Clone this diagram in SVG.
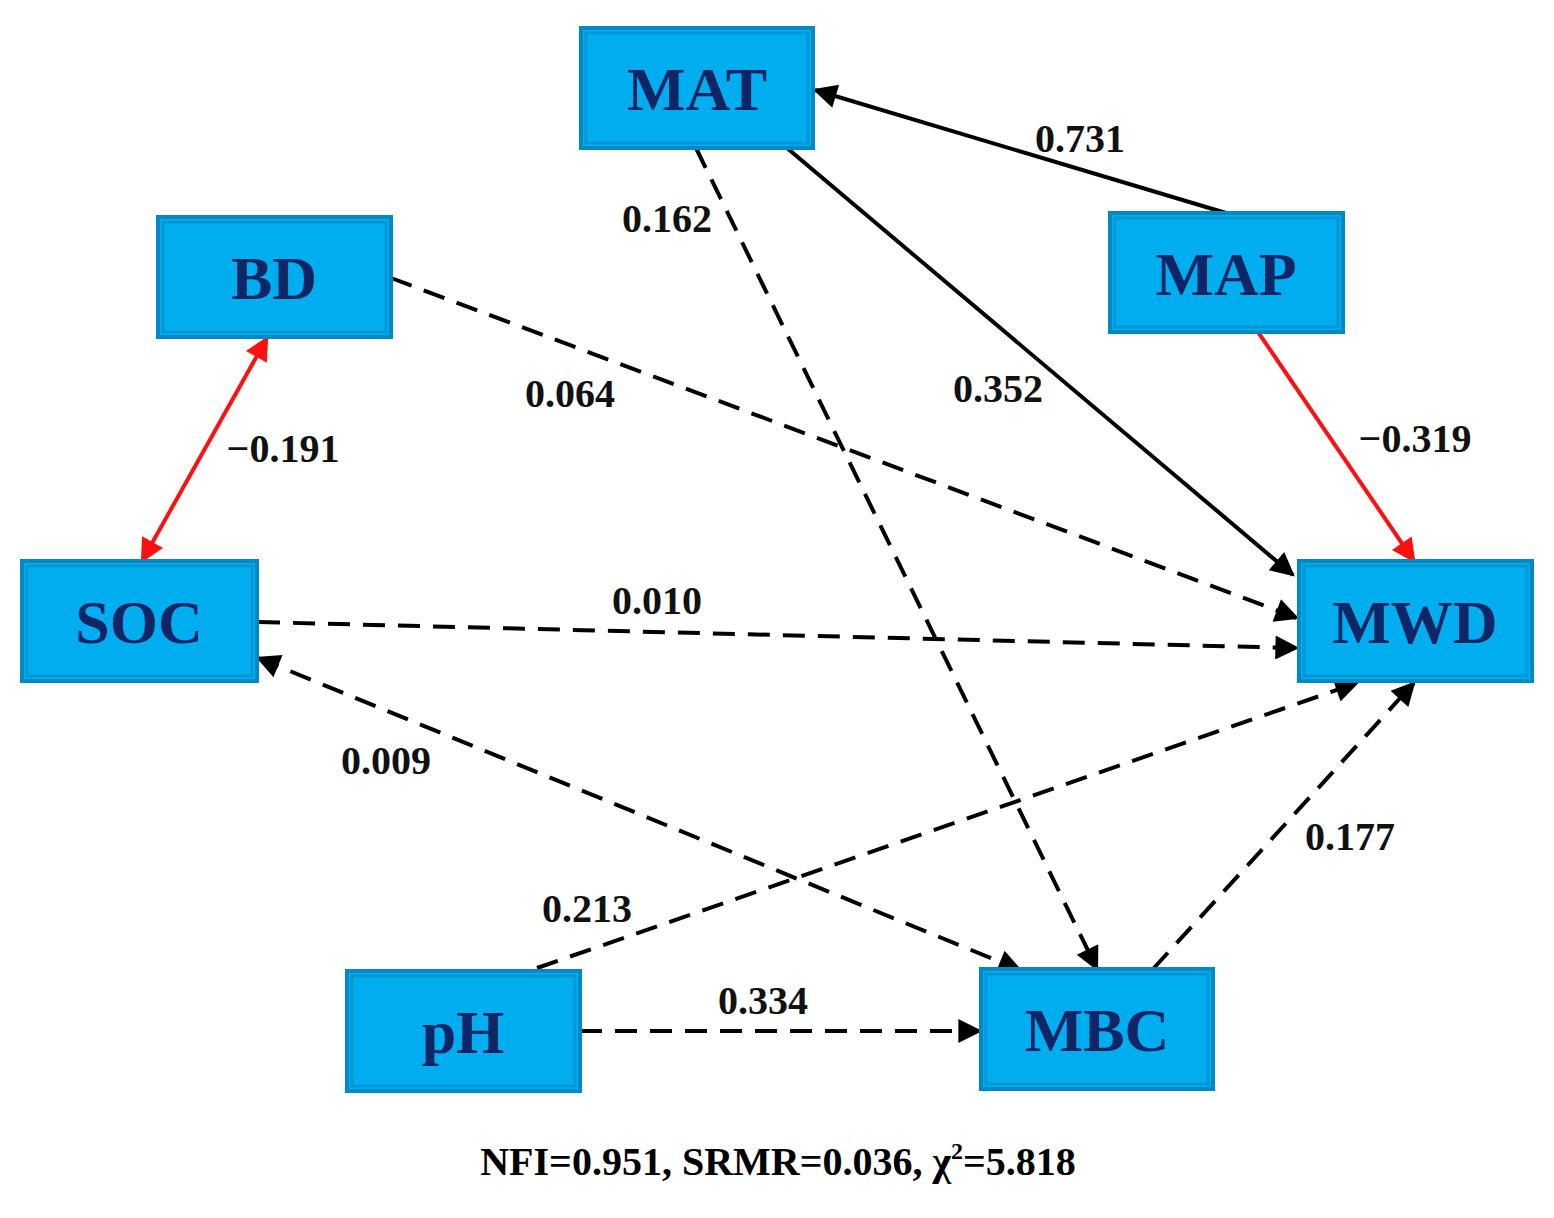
<svg xmlns="http://www.w3.org/2000/svg" width="1554" height="1218" viewBox="0 0 1554 1218">
<style>
.box{fill:#00AEEF;stroke:#0089C4;stroke-width:4}
.in{fill:none;stroke:#0098D4;stroke-width:3}
.nt{font-family:"Liberation Serif",serif;font-weight:bold;font-size:62px;fill:#0F2565;text-anchor:middle}
.lb{font-family:"Liberation Serif",serif;font-weight:bold;font-size:40px;fill:#111;text-anchor:middle}
.e{fill:none;stroke:#000;stroke-width:4}
.d{stroke-dasharray:22 13}
.r{stroke:#FF1010}
</style>
<defs>
<marker id="a" viewBox="0 0 10 10" refX="9" refY="5" markerWidth="7" markerHeight="6" orient="auto-start-reverse" markerUnits="userSpaceOnUse" >
<path d="M0,0L10,5L0,10z" fill="#000"/></marker>
<marker id="ak" viewBox="0 0 10 10" refX="9" refY="5" markerWidth="28" markerHeight="24" orient="auto-start-reverse" markerUnits="userSpaceOnUse">
<path d="M0,0L10,5L0,10z" fill="#000"/></marker>
<marker id="ar" viewBox="0 0 10 10" refX="9" refY="5" markerWidth="28" markerHeight="24" orient="auto-start-reverse" markerUnits="userSpaceOnUse">
<path d="M0,0L10,5L0,10z" fill="#FF1010"/></marker>
</defs>
<rect width="1554" height="1218" fill="#fff"/>
<g id="connectors">
<line class="e" x1="1226" y1="213" x2="815" y2="90" marker-end="url(#ak)"/>
<line class="e" x1="787" y1="148" x2="1293" y2="575" marker-end="url(#ak)"/>
<line class="e r" x1="1258" y1="332" x2="1414" y2="561" marker-end="url(#ar)"/>
<line class="e d" x1="696" y1="148" x2="1097" y2="969" marker-end="url(#ak)"/>
<line class="e d" x1="391" y1="278" x2="1297" y2="618" marker-end="url(#ak)"/>
<line class="e r" x1="267" y1="338" x2="142" y2="561" marker-start="url(#ar)" marker-end="url(#ar)"/>
<line class="e d" x1="258" y1="622" x2="1297" y2="648" marker-end="url(#ak)"/>
<line class="e d" x1="258" y1="658" x2="1020" y2="970" marker-start="url(#ak)" marker-end="url(#ak)"/>
<line class="e d" x1="537" y1="968" x2="1357" y2="683" marker-end="url(#ak)"/>
<line class="e d" x1="1153" y1="969" x2="1414" y2="683" marker-end="url(#ak)"/>
<line class="e d" x1="580" y1="1031" x2="980" y2="1031" marker-end="url(#ak)"/>
<text class="lb" x="1080" y="152">0.731</text>
<text class="lb" x="998" y="402">0.352</text>
<text class="lb" x="1415" y="452">−0.319</text>
<text class="lb" x="667" y="232">0.162</text>
<text class="lb" x="570" y="407">0.064</text>
<text class="lb" x="283" y="462">−0.191</text>
<text class="lb" x="657" y="614">0.010</text>
<text class="lb" x="386" y="774">0.009</text>
<text class="lb" x="587" y="922">0.213</text>
<text class="lb" x="1350" y="850">0.177</text>
<text class="lb" x="763" y="1014">0.334</text>
</g>
<g id="MAT"><rect class="box" x="581" y="28" width="232" height="120"/><rect class="in" x="586" y="33" width="222" height="110"/><text class="nt" x="697" y="110">MAT</text></g>
<g id="BD"><rect class="box" x="158" y="217" width="233" height="120"/><rect class="in" x="163" y="222" width="223" height="110"/><text class="nt" x="274" y="299">BD</text></g>
<g id="MAP"><rect class="box" x="1110" y="213" width="233" height="119"/><rect class="in" x="1115" y="218" width="223" height="109"/><text class="nt" x="1226" y="295">MAP</text></g>
<g id="SOC"><rect class="box" x="22" y="561" width="235" height="120"/><rect class="in" x="27" y="566" width="225" height="110"/><text class="nt" x="139" y="643">SOC</text></g>
<g id="MWD"><rect class="box" x="1299" y="561" width="233" height="120"/><rect class="in" x="1304" y="566" width="223" height="110"/><text class="nt" x="1415" y="643">MWD</text></g>
<g id="pH"><rect class="box" x="347" y="971" width="233" height="120"/><rect class="in" x="352" y="976" width="223" height="110"/><text class="nt" x="463" y="1053">pH</text></g>
<g id="MBC"><rect class="box" x="981" y="969" width="232" height="120"/><rect class="in" x="986" y="974" width="222" height="110"/><text class="nt" x="1097" y="1051">MBC</text></g>
<text class="lb" x="778" y="1175" style="fill:#000">NFI=0.951, SRMR=0.036, χ<tspan dy="-16" font-size="24">2</tspan><tspan dy="16">=5.818</tspan></text>
</svg>
